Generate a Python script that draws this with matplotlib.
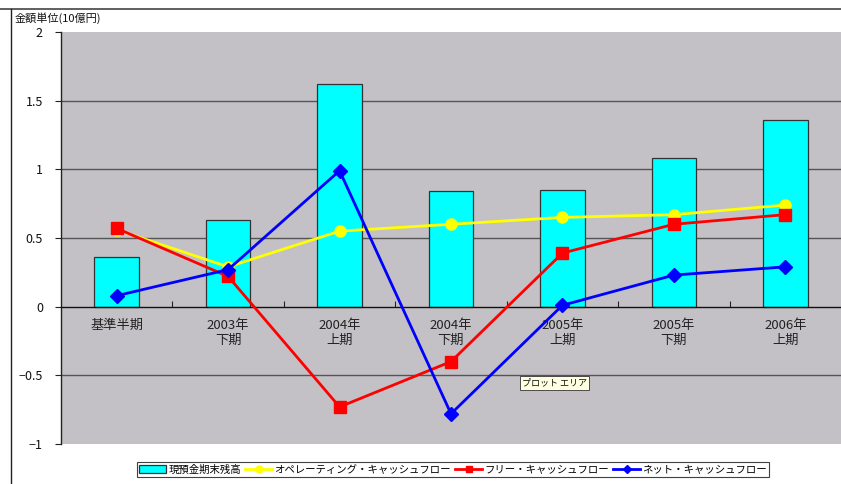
import matplotlib
matplotlib.use("Agg")
import matplotlib.pyplot as plt
from matplotlib.lines import Line2D
from matplotlib.patches import Patch
import numpy as np

plt.rcParams['font.family'] = ['Noto Sans CJK JP', 'DejaVu Sans']

categories = ["基準半期", "2003年\n下期", "2004年\n上期", "2004年\n下期",
              "2005年\n上期", "2005年\n下期", "2006年\n上期"]
cash_balance = [0.36, 0.63, 1.62, 0.84, 0.85, 1.08, 1.36]
operating_cf = [0.56, 0.29, 0.55, 0.60, 0.65, 0.67, 0.74]
free_cf = [0.57, 0.22, -0.73, -0.40, 0.39, 0.60, 0.67]
net_cf = [0.08, 0.27, 0.99, -0.78, 0.01, 0.23, 0.29]
series_names = ["現預金期末残高", "オペレーティング・キャッシュフロー",
                "フリー・キャッシュフロー", "ネット・キャッシュフロー"]
y_ticks = [-1, -0.5, 0, 0.5, 1, 1.5, 2]
y_tick_labels = ["−1", "−0.5", "0", "0.5", "1", "1.5", "2"]

W, H = 841, 484
fig = plt.figure(figsize=(W / 100, H / 100), dpi=100)
fig.patch.set_facecolor("white")

# outer chart-area frame
fig.add_artist(Line2D([0, 1], [1 - 8.5 / H, 1 - 8.5 / H], transform=fig.transFigure,
                      color="#444444", lw=1.2))
fig.add_artist(Line2D([10.5 / W, 10.5 / W], [0, 1 - 8.5 / H], transform=fig.transFigure,
                      color="#222222", lw=1.0))

left, top, right, bottom = 61, 32, 841, 444
ax = fig.add_axes([left / W, 1 - bottom / H, (right - left) / W, (bottom - top) / H])
ax.set_facecolor("#c3c1c5")

x = np.arange(len(categories))
ax.set_xlim(-0.5, len(categories) - 0.5)
ax.set_ylim(-1, 2)

# gridlines
for yv in [-0.5, 0.5, 1, 1.5]:
    ax.axhline(yv, color="#555555", lw=1.0, zorder=1)

ax.bar(x, cash_balance, width=0.4, color="#00ffff", edgecolor="#333333",
       linewidth=0.9, zorder=2)

ax.plot(x, operating_cf, color="#ffff00", lw=2.0, marker="o", markersize=8,
        markerfacecolor="#ffff00", markeredgecolor="#ffff00", zorder=3)
ax.plot(x, free_cf, color="#ff0000", lw=2.0, marker="s", markersize=8,
        markerfacecolor="#ff0000", markeredgecolor="#ff0000", zorder=4)
ax.plot(x, net_cf, color="#0000ff", lw=2.0, marker="D", markersize=7,
        markerfacecolor="#0000ff", markeredgecolor="#0000ff", zorder=5)

# spines
for s in ["top", "right"]:
    ax.spines[s].set_visible(False)
ax.spines["left"].set_color("#222222")
ax.spines["left"].set_linewidth(1.0)
ax.spines["bottom"].set_position(("data", 0))
ax.spines["bottom"].set_color("#111111")
ax.spines["bottom"].set_linewidth(1.0)
ax.spines["bottom"].set_zorder(2.5)

ax.set_yticks(y_ticks)
ax.set_yticklabels(y_tick_labels)
ax.tick_params(axis="y", direction="out", length=4, width=0.8, color="#222222",
               labelsize=9, pad=9, labelcolor="#111111")

ax.set_xticks(x)
ax.set_xticklabels(categories, fontsize=9.5, color="#222222", linespacing=1.15)
ax.set_xticks(np.arange(0.5, len(categories) - 0.5, 1), minor=True)
ax.tick_params(axis="x", which="major", length=0, pad=9)
ax.tick_params(axis="x", which="minor", direction="in", length=4, width=0.8,
               color="#222222")

fig.text(15 / W, 1 - 18 / H, "金額単位(10億円)", fontsize=8, va="center",
         ha="left", color="#111111")

# hover tip over the plot area
fig.text(522 / W, 1 - 383 / H, "プロット エリア", fontsize=6.5, va="center", ha="left",
         color="#111111",
         bbox=dict(boxstyle="square,pad=0.25", facecolor="#ffffe1",
                   edgecolor="#333333", linewidth=0.6))

handles = [
    Patch(facecolor="#00ffff", edgecolor="#333333", linewidth=0.9),
    Line2D([], [], color="#ffff00", lw=2, marker="o", markersize=5),
    Line2D([], [], color="#ff0000", lw=2, marker="s", markersize=5),
    Line2D([], [], color="#0000ff", lw=2, marker="D", markersize=4.5),
]
leg = fig.legend(handles, series_names, loc="center", ncol=4,
                 bbox_to_anchor=(453 / W, 1 - 469.5 / H), fontsize=7.5,
                 frameon=True, fancybox=False, edgecolor="#111111",
                 handlelength=2.6, handletextpad=0.2, columnspacing=0.4,
                 borderpad=0.25, borderaxespad=0)
leg.get_frame().set_linewidth(0.8)

fig.savefig("out.png", dpi=100)
